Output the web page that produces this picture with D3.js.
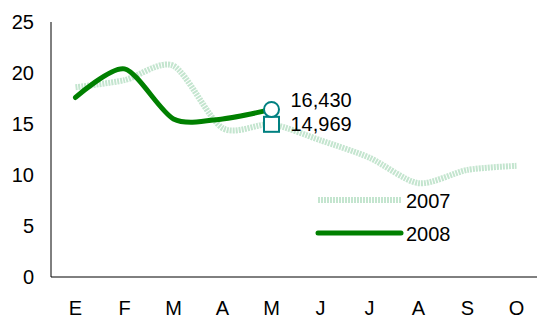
<!DOCTYPE html>
<html>
<head>
<meta charset="utf-8">
<script src="https://cdn.jsdelivr.net/npm/d3@7"></script>
<style>
  body { margin: 0; background: #fff; }
  text { font-family: "Liberation Sans", Arial, sans-serif; }
</style>
</head>
<body>
<div id="viz"></div>
<script>
// months (spanish initials)
var months = ['E', 'F', 'M', 'A', 'M2', 'J', 'J2', 'A2', 'S', 'O'];
var monthLabels = ['E', 'F', 'M', 'A', 'M', 'J', 'J', 'A', 'S', 'O'];
var values2007 = [18.6, 19.3, 20.7, 14.6, 14.969, 13.4, 11.7, 9.2, 10.5, 10.9];
var values2008 = [17.6, 20.4, 15.5, 15.5, 16.430];
var yTicks = [0, 5, 10, 15, 20, 25];

var width = 537, height = 318;
var margin = {top: 23, right: 0, bottom: 41, left: 51};

var svg = d3.select('#viz')
  .append('svg')
  .attr('width', width)
  .attr('height', height);

var x = d3.scaleBand()
  .domain(months)
  .range([margin.left, margin.left + 490]);

var y = d3.scaleLinear()
  .domain([0, 25])
  .range([height - margin.bottom, height - margin.bottom - 255]);

// y axis
svg.append('line')
  .attr('x1', margin.left).attr('x2', margin.left)
  .attr('y1', y(25)).attr('y2', y(0))
  .attr('stroke', '#000').attr('stroke-width', 1);

svg.append('g')
  .selectAll('text')
  .data(yTicks)
  .join('text')
  .attr('x', 34)
  .attr('y', d => y(d))
  .attr('dy', '0.35em')
  .attr('text-anchor', 'end')
  .attr('font-size', 20)
  .text(d => d);

// x axis
svg.append('line')
  .attr('x1', margin.left).attr('x2', width)
  .attr('y1', y(0)).attr('y2', y(0))
  .attr('stroke', '#000').attr('stroke-width', 1);

svg.append('g')
  .selectAll('text')
  .data(months)
  .join('text')
  .attr('x', d => x(d) + x.bandwidth() / 2)
  .attr('y', 308)
  .attr('dy', '0.35em')
  .attr('text-anchor', 'middle')
  .attr('font-size', 20)
  .text((d, i) => monthLabels[i]);

var line = d3.line()
  .x((d, i) => x(months[i]) + x.bandwidth() / 2)
  .y(d => y(d))
  .curve(d3.curveCardinal.tension(0.2));

// 2007
svg.append('path')
  .datum(values2007)
  .attr('d', line)
  .attr('fill', 'none')
  .attr('stroke', '#c4e5cf')
  .attr('stroke-width', 6)
  .attr('stroke-dasharray', '2,1');

// 2008
svg.append('path')
  .datum(values2008)
  .attr('d', line)
  .attr('fill', 'none')
  .attr('stroke', '#008000')
  .attr('stroke-width', 5)
  .attr('stroke-linecap', 'round');

// markers at last 2008 point
var mx = x('M2') + x.bandwidth() / 2;
svg.append('rect')
  .attr('x', mx - 7.5).attr('y', y(values2007[4]) - 7.5)
  .attr('width', 15).attr('height', 15)
  .attr('fill', '#fff')
  .attr('stroke', '#008080').attr('stroke-width', 2);
svg.append('circle')
  .attr('cx', mx).attr('cy', y(values2008[4]))
  .attr('r', 7.5)
  .attr('fill', '#fff')
  .attr('stroke', '#008080').attr('stroke-width', 2);

var fmt = d3.format(',.0f');
svg.append('text')
  .attr('x', mx + 19).attr('y', y(values2008[4]) - 9)
  .attr('dy', '0.35em').attr('font-size', 20)
  .text(fmt(values2008[4] * 1000));
svg.append('text')
  .attr('x', mx + 19).attr('y', y(values2007[4]))
  .attr('dy', '0.35em').attr('font-size', 20)
  .text(fmt(values2007[4] * 1000));

// legend
var legend = [
  {name: '2007', color: '#c4e5cf', dash: '2,1', w: 6, y: 200, cap: 'butt'},
  {name: '2008', color: '#008000', dash: null, w: 5, y: 233, cap: 'round'}
];
var lg = svg.append('g');
lg.selectAll('line')
  .data(legend)
  .join('line')
  .attr('x1', 318).attr('x2', 401)
  .attr('y1', d => d.y).attr('y2', d => d.y)
  .attr('stroke', d => d.color)
  .attr('stroke-width', d => d.w)
  .attr('stroke-dasharray', d => d.dash)
  .attr('stroke-linecap', d => d.cap);
lg.selectAll('text')
  .data(legend)
  .join('text')
  .attr('x', 406)
  .attr('y', d => d.y + 1)
  .attr('dy', '0.35em')
  .attr('font-size', 20)
  .text(d => d.name);
</script>
</body>
</html>
